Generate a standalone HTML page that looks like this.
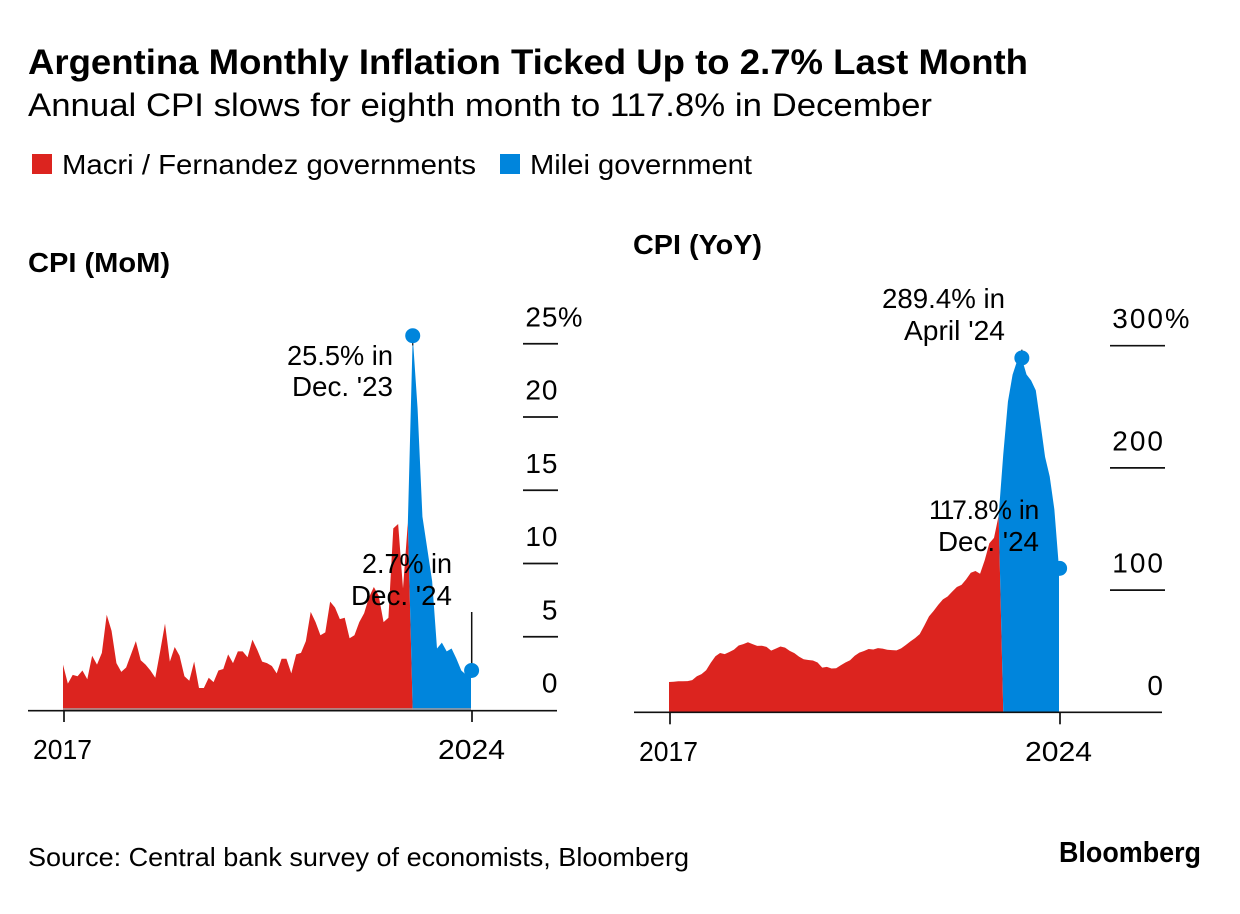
<!DOCTYPE html>
<html lang="en">
<head>
<meta charset="utf-8">
<title>Argentina Monthly Inflation</title>
<style>
html,body{margin:0;padding:0;background:#fff;width:1240px;height:914px;overflow:hidden}
svg{display:block;font-family:"Liberation Sans",Arial,sans-serif;fill:#000}
</style>
</head>
<body>
<svg id="chart" xmlns="http://www.w3.org/2000/svg" width="1240" height="914" viewBox="0 0 1240 914">
  <rect width="1240" height="914" fill="#fff"/>
  <text x="28" y="74" font-size="35" font-weight="700" textLength="1000" lengthAdjust="spacingAndGlyphs">Argentina Monthly Inflation Ticked Up to 2.7% Last Month</text>
  <text x="28" y="116" font-size="32" textLength="904" lengthAdjust="spacingAndGlyphs">Annual CPI slows for eighth month to 117.8% in December</text>

  <g>
    <rect x="32" y="154" width="20" height="20" fill="#dc241f"/>
    <text x="62" y="174" font-size="28" textLength="414" lengthAdjust="spacingAndGlyphs">Macri / Fernandez governments</text>
    <rect x="500" y="154" width="20" height="20" fill="#0085dc"/>
    <text x="530" y="174" font-size="28" textLength="222" lengthAdjust="spacingAndGlyphs">Milei government</text>
  </g>

  <text x="28" y="272" font-size="28" font-weight="700" textLength="142" lengthAdjust="spacingAndGlyphs">CPI (MoM)</text>
  <text x="633" y="254" font-size="28" font-weight="700" textLength="129" lengthAdjust="spacingAndGlyphs">CPI (YoY)</text>

  <g id="mom-panel"></g>
  <g id="yoy-panel"></g>

  <g font-size="27.5">
    <text x="287" y="365" textLength="106" lengthAdjust="spacingAndGlyphs">25.5% in</text>
    <text x="292" y="396" textLength="101" lengthAdjust="spacingAndGlyphs">Dec. '23</text>
    <text x="362" y="573" textLength="90" lengthAdjust="spacingAndGlyphs">2.7% in</text>
    <text x="351" y="605" textLength="101" lengthAdjust="spacingAndGlyphs">Dec. '24</text>
  </g>
  <g font-size="27.5">
    <text x="882" y="308" textLength="123" lengthAdjust="spacingAndGlyphs">289.4% in</text>
    <text x="904" y="340" textLength="101" lengthAdjust="spacingAndGlyphs">April '24</text>
    <text x="929" y="519" font-size="26.5" letter-spacing="-0.2"><tspan letter-spacing="-2.2">11</tspan>7.8% in</text>
    <text x="938" y="551" textLength="101" lengthAdjust="spacingAndGlyphs">Dec. '24</text>
  </g>

  <text x="28" y="866" font-size="26" textLength="661" lengthAdjust="spacingAndGlyphs">Source: Central bank survey of economists, Bloomberg</text>
  <text x="1059" y="862" font-size="28.5" font-weight="700" textLength="142" lengthAdjust="spacingAndGlyphs">Bloomberg</text>
</svg>
<script>
// Monthly data, Dec 2017 through Dec 2024
const momValues = [3.1,
  1.8,2.4,2.3,2.7,2.1,3.7,3.1,3.9,6.5,5.4,3.2,2.6,
  2.9,3.8,4.7,3.4,3.1,2.7,2.2,4.0,5.9,3.3,4.3,3.7,
  2.3,2.0,3.3,1.5,1.5,2.2,1.9,2.7,2.8,3.8,3.2,4.0,
  4.0,3.6,4.8,4.1,3.3,3.2,3.0,2.5,3.5,3.5,2.5,3.8,
  3.9,4.7,6.7,6.0,5.1,5.3,7.4,7.0,6.2,6.3,4.9,5.1,
  6.0,6.6,7.7,8.4,7.8,6.0,6.3,12.4,12.7,8.3,12.8,25.5,
  20.6,13.2,11.0,8.8,4.2,4.6,4.0,4.2,3.5,2.7,2.4,2.7];
const yoyValues = [24.8,
  25.0,25.4,25.4,25.5,26.3,29.5,31.2,34.4,40.5,45.9,48.5,47.6,
  49.3,51.3,54.7,55.8,57.3,55.8,54.4,54.5,53.5,50.5,52.1,53.8,
  52.9,50.3,48.4,45.6,43.4,42.8,42.4,40.7,36.6,37.2,35.8,36.1,
  38.5,40.7,42.6,46.3,48.8,50.2,51.8,51.4,52.5,52.1,51.2,50.9,
  50.7,52.3,55.1,58.0,60.7,64.0,71.0,78.5,83.0,88.0,92.4,94.8,
  98.8,102.5,104.3,108.8,114.2,115.6,113.4,124.4,138.3,142.7,160.9,211.4,
  254.2,276.2,287.9,289.4,276.4,271.5,263.4,236.7,209.0,193.0,166.0,117.8];
const momTickValues = [0,5,10,15,20,25];
const yoyTickValues = [0,100,200,300];
const xTickLabels = ["2017","2024"];
const mileiStartIndex = 72;
const momPeakIndex = 72;
const yoyPeakIndex = 76;

const SVG_NS = "http://www.w3.org/2000/svg";
const RED = "#dc241f";
const BLUE = "#0085dc";

function svgEl(tag, attrs, parent) {
  const el = document.createElementNS(SVG_NS, tag);
  for (const k in attrs) el.setAttribute(k, attrs[k]);
  parent.appendChild(el);
  return el;
}

function drawPanel(cfg) {
  const g = document.getElementById(cfg.id);
  const n = cfg.values.length;
  const xOf = i => cfg.x0 + (cfg.x1 - cfg.x0) * i / (n - 1);
  const yOf = v => cfg.y0 - v * cfg.pxPerUnit;
  const pt = i => xOf(i).toFixed(2) + "," + yOf(cfg.values[i]).toFixed(2);

  // red area: everything before the Milei government
  const redPts = [xOf(0).toFixed(2) + "," + cfg.y0];
  for (let i = 0; i < mileiStartIndex; i++) redPts.push(pt(i));
  redPts.push(xOf(mileiStartIndex).toFixed(2) + "," + cfg.y0);
  const red = svgEl("polygon", {points: redPts.join(" "), fill: RED}, g);
  
  

  // blue area: Milei government
  const bluePts = [xOf(mileiStartIndex).toFixed(2) + "," + cfg.y0, pt(mileiStartIndex - 1)];
  for (let i = mileiStartIndex; i < n; i++) bluePts.push(pt(i));
  bluePts.push(xOf(n - 1).toFixed(2) + "," + cfg.y0);
  const blue = svgEl("polygon", {points: bluePts.join(" "), fill: BLUE}, g);
  
  

  // thin grey stripe sitting on the baseline under the areas
  if (cfg.stripe) {
    const stripe = svgEl("line", {x1: cfg.x0, x2: cfg.x1, y1: cfg.y0 - 1, y2: cfg.y0 - 1, stroke: "#a9a0a0", "stroke-width": 1.4}, g);
    
    
  }

  // baseline
  const base = svgEl("line", {x1: cfg.axisLeft, x2: cfg.axisRight, y1: cfg.y0 + cfg.axisOffset, y2: cfg.y0 + cfg.axisOffset, stroke: "#111", "stroke-width": 1.6}, g);
  
  

  // x ticks and labels
  [0, n - 1].forEach((idx, k) => {
    const tick = svgEl("line", {x1: xOf(idx) + 1, x2: xOf(idx) + 1, y1: cfg.y0, y2: cfg.y0 + 12, stroke: "#111", "stroke-width": 1.7}, g);
    
    
    const label = svgEl("text", {x: xOf(idx) + cfg.xLabelShift[k], y: cfg.xLabelY, "font-size": 28, textLength: cfg.xLabelWidths[k], lengthAdjust: "spacingAndGlyphs"}, g);
    label.textContent = xTickLabels[k];
    
    
  });

  // y ticks and labels
  cfg.ticks.forEach((v, k) => {
    if (v !== 0) {
      const line = svgEl("line", {x1: cfg.tickLeft, x2: cfg.tickRight, y1: yOf(v), y2: yOf(v), stroke: "#111", "stroke-width": 1.7}, g);
      
      
    }
    const label = svgEl("text", {x: cfg.tickRight + cfg.tickShift, y: yOf(v) - cfg.tickLabelGap, "text-anchor": "end", "font-size": 28, "letter-spacing": cfg.tickSpacing}, g);
    label.textContent = String(v);
    
    
    if (k === cfg.ticks.length - 1) {
      const pct = svgEl("text", {x: cfg.tickRight, y: yOf(v) - cfg.tickLabelGap, "text-anchor": "start", "font-size": 27.5}, g);
      pct.textContent = "%";
      
      
    }
  });

  // peak leader and markers
  const peakX = xOf(cfg.peakIndex), peakY = yOf(cfg.values[cfg.peakIndex]);
  const peakLine = svgEl("line", {x1: peakX, x2: peakX, y1: peakY + cfg.peakLeader[0], y2: peakY + cfg.peakLeader[1], stroke: "#111", "stroke-width": 1.2}, g);
  
  
  const peak = svgEl("circle", {cx: peakX, cy: peakY - 0.7, r: 7.5, fill: BLUE}, g);
  
  

  const lastX = xOf(n - 1), lastY = yOf(cfg.values[n - 1]);
  if (cfg.leaderTop) {
    const lead = svgEl("line", {x1: lastX + 0.7, x2: lastX + 0.7, y1: cfg.leaderTop, y2: lastY, stroke: "#111", "stroke-width": 1.5}, g);
    
    
  }
  const last = svgEl("circle", {cx: lastX + 0.6, cy: lastY, r: 7.5, fill: BLUE}, g);
  
  
}

drawPanel({id: "mom-panel", values: momValues, ticks: momTickValues, peakIndex: momPeakIndex,
  x0: 63, x1: 471, y0: 710, pxPerUnit: 14.65, axisOffset: 0.7, stripe: true, peakLeader: [0, 9],
  axisLeft: 28, axisRight: 557, tickLeft: 523, tickRight: 558, tickSpacing: 1, tickShift: 0.5, tickLabelGap: 17.5, xLabelY: 759,
  xLabelShift: [-30, -33], xLabelWidths: [59, 67], leaderTop: 612});
drawPanel({id: "yoy-panel", values: yoyValues, ticks: yoyTickValues, peakIndex: yoyPeakIndex,
  x0: 669, x1: 1059, y0: 712.3, pxPerUnit: 1.222, axisOffset: 0, stripe: false, peakLeader: [-9, 0],
  axisLeft: 634, axisRight: 1162, tickLeft: 1110, tickRight: 1165, tickSpacing: 2, tickShift: 0, tickLabelGap: 17.5, xLabelY: 761,
  xLabelShift: [-30, -34], xLabelWidths: [59, 67], leaderTop: 0});
</script>
</body>
</html>
